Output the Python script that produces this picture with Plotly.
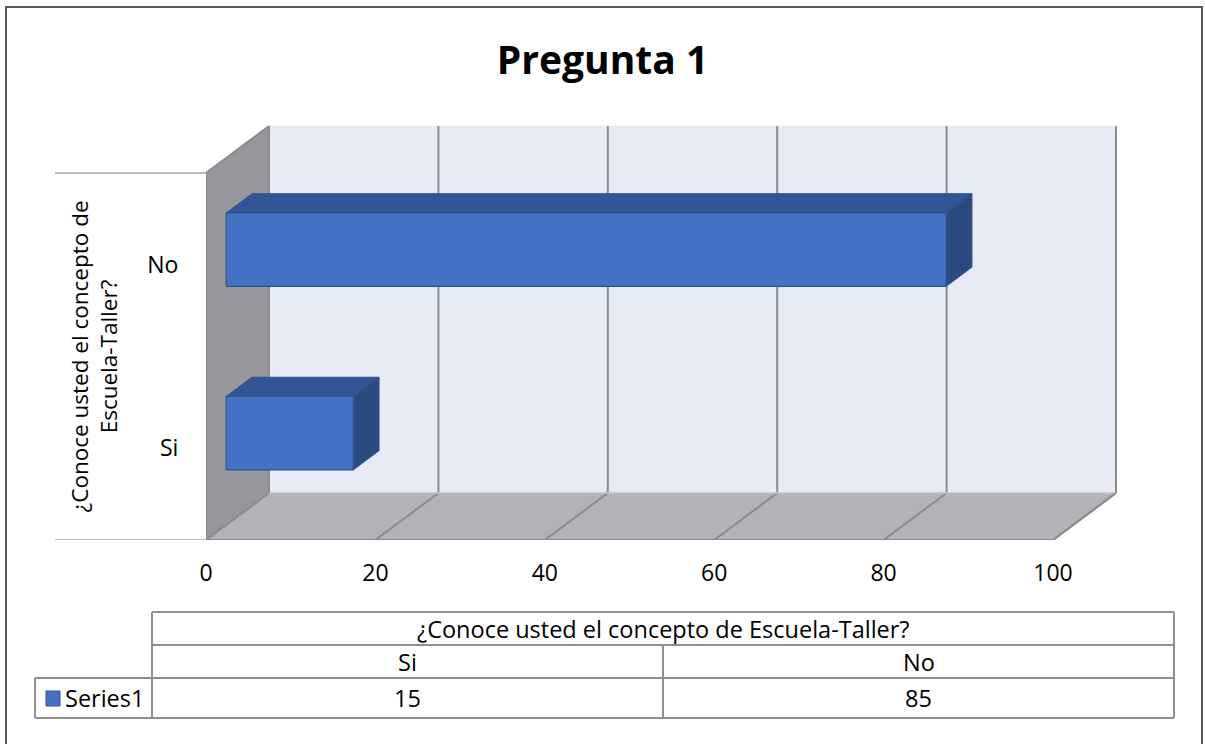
import plotly.graph_objects as go

# ---------------- data ----------------
title_text = "Pregunta 1"
categories = ["Si", "No"]
values = [15, 85]
series_name = "Series1"
axis_title = "¿Conoce usted el concepto de Escuela-Taller?"
axis_title_lines = "¿Conoce usted el concepto de<br>Escuela-Taller?"
x_ticks = [0, 20, 40, 60, 80, 100]

# ---------------- layout geometry ----------------
W, H = 1205, 744
L, R, T, B = 206, 85, 120, 204
pw = W - L - R
ph = H - T - B
n = len(categories)
xmax = x_ticks[-1]
px_per_x = 847 / xmax          # front plane scale
px_per_y = 367 / n             # front plane scale (category units)
x_range = [0, pw / px_per_x]
y_range = [0, ph / px_per_y]
DX = 63 / px_per_x             # depth offset in data units
DY = 47 / px_per_y
D0, D1 = 0.32, 0.73            # bar depth (front / back) fraction
HALF = 0.20                    # half bar thickness in category units

FONT = "Open Sans"
C_BACK = "#e8eaf6"
C_LEFT = "#96979c"
C_FLOOR = "#b1b3b9"
C_GRID = "#8c8c8c"
C_FRONT = "#4472c4"
C_TOP = "#325596"
C_SIDE = "#2b4a80"
C_EDGE = "#2f528f"
C_TABLE = "#8f8f8f"


def px(x):
    return (x - L) / pw


def py(y):
    return (H - B - y) / ph


fig = go.Figure()


def poly(xs, ys, fill, line=None, width=1):
    fig.add_trace(go.Scatter(
        x=list(xs) + [xs[0]], y=list(ys) + [ys[0]], mode="lines", fill="toself",
        fillcolor=fill, line=dict(color=line or fill, width=width),
        hoverinfo="skip", showlegend=False))


def seg(xs, ys, color=C_GRID, width=2):
    fig.add_trace(go.Scatter(x=xs, y=ys, mode="lines", line=dict(color=color, width=width),
                             hoverinfo="skip", showlegend=False))


# back wall
poly([DX, xmax + DX, xmax + DX, DX], [DY, DY, n + DY, n + DY], C_BACK, width=0.5)
# left wall
poly([0, DX, DX, 0], [0, DY, n + DY, n], C_LEFT, width=0.5)
# floor
poly([0, xmax, xmax + DX, DX], [0, 0, DY, DY], C_FLOOR, width=0.5)

# gridlines on back wall and floor
for t in x_ticks:
    seg([t + DX, t + DX], [DY, n + DY])
    seg([t, t + DX], [0, DY])
# edges
seg([DX, xmax + DX], [DY, DY], color="#c4c6cc", width=1.5)
seg([0, 0, DX], [0, n, n + DY])
seg([0, xmax, xmax + DX], [0, 0, DY])

# bars (3D boxes)
for i, (cat, v) in enumerate(zip(categories, values)):
    c = i + 0.5
    x0f, x1f = D0 * DX, v + D0 * DX
    x0b, x1b = D1 * DX, v + D1 * DX
    ybf, ytf = c - HALF + D0 * DY, c + HALF + D0 * DY
    ybb, ytb = c - HALF + D1 * DY, c + HALF + D1 * DY
    poly([x0f, x1f, x1b, x0b], [ytf, ytf, ytb, ytb], C_TOP, C_EDGE, 1)
    poly([x1f, x1b, x1b, x1f], [ybf, ybb, ytb, ytf], C_SIDE, C_EDGE, 1)
    poly([x0f, x1f, x1f, x0f], [ybf, ybf, ytf, ytf], C_FRONT, C_EDGE, 1.2)

shapes = []
# category axis boundary ticks
for yv in [0, n]:
    shapes.append(dict(type="line", xref="paper", yref="y", x0=px(55), x1=0, y0=yv, y1=yv,
                       line=dict(color="#a6a6a6", width=1.5)))

# ---------------- data table ----------------
tx0, tx1, lx0 = 152, 1174, 35
ry = [612, 645, 678, 718]
colw = (tx1 - tx0) / n
tl = dict(color=C_TABLE, width=2)
shapes.append(dict(type="line", xref="paper", yref="paper", x0=px(tx0), x1=px(tx1), y0=py(ry[0]), y1=py(ry[0]), line=tl))
shapes.append(dict(type="line", xref="paper", yref="paper", x0=px(tx0), x1=px(tx1), y0=py(ry[1]), y1=py(ry[1]), line=tl))
shapes.append(dict(type="line", xref="paper", yref="paper", x0=px(lx0), x1=px(tx1), y0=py(ry[2]), y1=py(ry[2]), line=tl))
shapes.append(dict(type="line", xref="paper", yref="paper", x0=px(lx0), x1=px(tx1), y0=py(ry[3]), y1=py(ry[3]), line=tl))
shapes.append(dict(type="line", xref="paper", yref="paper", x0=px(lx0), x1=px(lx0), y0=py(ry[2]), y1=py(ry[3]), line=tl))
shapes.append(dict(type="line", xref="paper", yref="paper", x0=px(tx0), x1=px(tx0), y0=py(ry[0]), y1=py(ry[3]), line=tl))
shapes.append(dict(type="line", xref="paper", yref="paper", x0=px(tx1), x1=px(tx1), y0=py(ry[0]), y1=py(ry[3]), line=tl))
for k in range(1, n):
    xx = tx0 + k * colw
    shapes.append(dict(type="line", xref="paper", yref="paper", x0=px(xx), x1=px(xx), y0=py(ry[1]), y1=py(ry[3]), line=tl))
# legend swatch
shapes.append(dict(type="rect", xref="paper", yref="paper", x0=px(46), x1=px(60), y0=py(706), y1=py(691),
                   fillcolor=C_FRONT, line=dict(color=C_EDGE, width=1)))
# outer border
shapes.append(dict(type="rect", xref="paper", yref="paper", x0=px(6), x1=px(1202), y0=py(7), y1=py(760),
                   line=dict(color="#595959", width=2), fillcolor="rgba(0,0,0,0)"))

tf = dict(family=FONT, size=23.5, color="#000000")
annotations = [
    dict(text=axis_title, x=px((tx0 + tx1) / 2), y=py((ry[0] + ry[1]) / 2), xref="paper", yref="paper",
         showarrow=False, font=tf, xanchor="center", yanchor="middle"),
    dict(text=series_name, x=px(63), y=py((ry[2] + ry[3]) / 2), xref="paper", yref="paper",
         showarrow=False, font=tf, xanchor="left", yanchor="middle"),
    dict(text=axis_title_lines, x=px(93), y=n / 2, xref="paper", yref="y", textangle=-90,
         showarrow=False, font=dict(family=FONT, size=22.5, color="#000000"), xanchor="center", yanchor="middle"),
]
for i, (cat, v) in enumerate(zip(categories, values)):
    cx = tx0 + (i + 0.5) * colw
    annotations.append(dict(text=cat, x=px(cx), y=py((ry[1] + ry[2]) / 2), xref="paper", yref="paper",
                            showarrow=False, font=tf, xanchor="center", yanchor="middle"))
    annotations.append(dict(text=str(v), x=px(cx), y=py((ry[2] + ry[3]) / 2), xref="paper", yref="paper",
                            showarrow=False, font=tf, xanchor="center", yanchor="middle"))

fig.update_layout(
    width=W, height=H, autosize=False,
    margin=dict(l=L, r=R, t=T, b=B, pad=0),
    paper_bgcolor="white", plot_bgcolor="rgba(0,0,0,0)",
    title=dict(text="<b>" + title_text + "</b>", x=0.5, xanchor="center", xref="container",
               y=1 - 60 / H, yanchor="middle", yref="container",
               font=dict(family=FONT, size=39, color="#000000")),
    xaxis=dict(range=x_range, tickvals=x_ticks, ticktext=[str(t) for t in x_ticks],
               showgrid=False, zeroline=False, showline=False, ticks="outside", ticklen=12,
               tickcolor="rgba(0,0,0,0)", tickfont=dict(family=FONT, size=23, color="#000000"),
               fixedrange=True),
    yaxis=dict(range=y_range, tickvals=[i + 0.5 for i in range(n)], ticktext=categories,
               showgrid=False, zeroline=False, showline=False, ticks="outside", ticklen=22,
               tickcolor="rgba(0,0,0,0)", tickfont=dict(family=FONT, size=23, color="#000000"),
               fixedrange=True),
    shapes=shapes, annotations=annotations, showlegend=False, hovermode=False,
)

fig.write_html("out.html")
